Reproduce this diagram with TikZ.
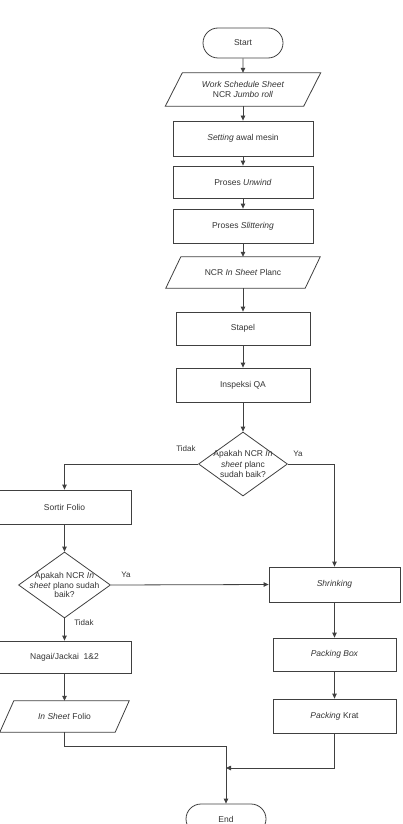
\documentclass[tikz,border=0pt]{standalone}
\usepackage{fontspec}
\setmainfont{Liberation Sans}
\usetikzlibrary{shapes.geometric,shapes.misc,arrows.meta,calc}
\begin{document}
\begin{tikzpicture}[x=1pt,y=-1pt,
  every node/.style={font=\fontsize{8.5}{10.5}\selectfont, text=black!80},
  box/.style={draw=black!75, line width=0.8pt, rectangle, inner sep=0pt, align=center},
  term/.style={draw=black!75, line width=0.8pt, rounded rectangle, minimum width=80pt, minimum height=30pt, inner sep=0pt},
  dia/.style={draw=black!75, line width=0.8pt, diamond, inner sep=0pt},
  iobox/.style={inner sep=0pt, align=center},
  pshape/.style={draw=black!75, line width=0.8pt},
  conn/.style={draw=black!75, line width=0.8pt},
  arr/.style={conn, -{Triangle[length=5pt,width=4.5pt]}},
  lbl/.style={font=\fontsize{8}{10}\selectfont}
]
\useasboundingbox (0,0) rectangle (402,824);

% main column
\node[term] (start) at (243,43) {Start};
\node[iobox, minimum width=138pt, minimum height=33pt] (p1) at (243,89.5) {\textit{Work Schedule Sheet}\\NCR \textit{Jumbo roll}};
\draw[pshape] ([xshift=8.5pt]p1.north west) -- ([xshift=8.5pt]p1.north east) -- ([xshift=-8.5pt]p1.south east) -- ([xshift=-8.5pt]p1.south west) -- cycle;
\node[box, minimum width=140pt, minimum height=35pt] (set) at (243,138.5) {\textit{Setting} awal mesin};
\node[box, minimum width=140pt, minimum height=32pt] (unw) at (243,182) {Proses \textit{Unwind}};
\node[box, minimum width=140pt, minimum height=34pt] (sli) at (243,226) {Proses \textit{Slittering}};
\node[iobox, minimum width=139pt, minimum height=31pt] (p2) at (243,272.5) {NCR \textit{In Sheet} Planc};
\draw[pshape] ([xshift=7.5pt]p2.north west) -- ([xshift=7.5pt]p2.north east) -- ([xshift=-7.5pt]p2.south east) -- ([xshift=-7.5pt]p2.south west) -- cycle;
\node[box, minimum width=134pt, minimum height=33pt] (sta) at (243,328.5) {Stapel};
\node[box, minimum width=134pt, minimum height=34pt] (ins) at (243,385) {Inspeksi QA};
\node[dia, minimum width=89pt, minimum height=64pt] (d1) at (243,464) {};
\node[align=center, inner sep=0pt] at (243,464) {Apakah NCR \textit{In}\\\textit{sheet} planc\\sudah baik?};

% left branch
\node[box, minimum width=133pt, minimum height=34pt] (sor) at (64.5,507) {Sortir Folio};
\node[dia, minimum width=92pt, minimum height=66pt] (d2) at (64.5,585) {};
\node[align=center, inner sep=0pt, font=\fontsize{8.5}{9.5}\selectfont] at (64.5,585) {Apakah NCR \textit{In}\\\textit{sheet} plano sudah\\baik?};
\node[box, minimum width=133pt, minimum height=32pt] (nag) at (64.5,657) {Nagai/Jackai~~1\&2};
\node[iobox, minimum width=115pt, minimum height=31pt] (p3) at (64.5,716.5) {\textit{In Sheet} Folio};
\draw[pshape] ([xshift=7pt]p3.north west) -- ([xshift=7pt]p3.north east) -- ([xshift=-7pt]p3.south east) -- ([xshift=-7pt]p3.south west) -- cycle;

% right branch
\node[box, minimum width=131pt, minimum height=35pt] (shr) at (334.5,584.5) {\textit{Shrinking}};
\node[box, minimum width=123pt, minimum height=33pt] (pbx) at (334.5,654.5) {\textit{Packing Box}};
\node[box, minimum width=123pt, minimum height=34pt] (pkr) at (334.5,716) {\textit{Packing} Krat};

\node[term] (end) at (226,819) {End};
\coordinate (m) at (226,746);
\coordinate (j) at (226,768);

% connectors
\draw[arr] (start) -- (p1);
\draw[arr] (p1) -- (set);
\draw[arr] (set) -- (unw);
\draw[arr] (unw) -- (sli);
\draw[arr] (sli) -- (p2);
\draw[arr] (p2) -- (sta);
\draw[arr] (sta) -- (ins);
\draw[arr] (ins) -- (d1);
\draw[arr] (d1.west) -| (sor.north);
\draw[arr] (d1.east) -| (shr.north);
\draw[arr] (sor) -- (d2);
\draw[arr] (d2.east) -- (shr.west);
\draw[arr] (d2) -- (nag);
\draw[arr] (nag) -- (p3);
\draw[arr] (shr) -- (pbx);
\draw[arr] (pbx) -- (pkr);
\draw[arr] (p3.south) |- (m) -- (end.north);
\draw[arr] (pkr.south) |- (j);

% labels
\node[lbl] at (186,449) {Tidak};
\node[lbl] at (298,454) {Ya};
\node[lbl] at (126,575) {Ya};
\node[lbl] at (84,623) {Tidak};
\end{tikzpicture}
\end{document}
